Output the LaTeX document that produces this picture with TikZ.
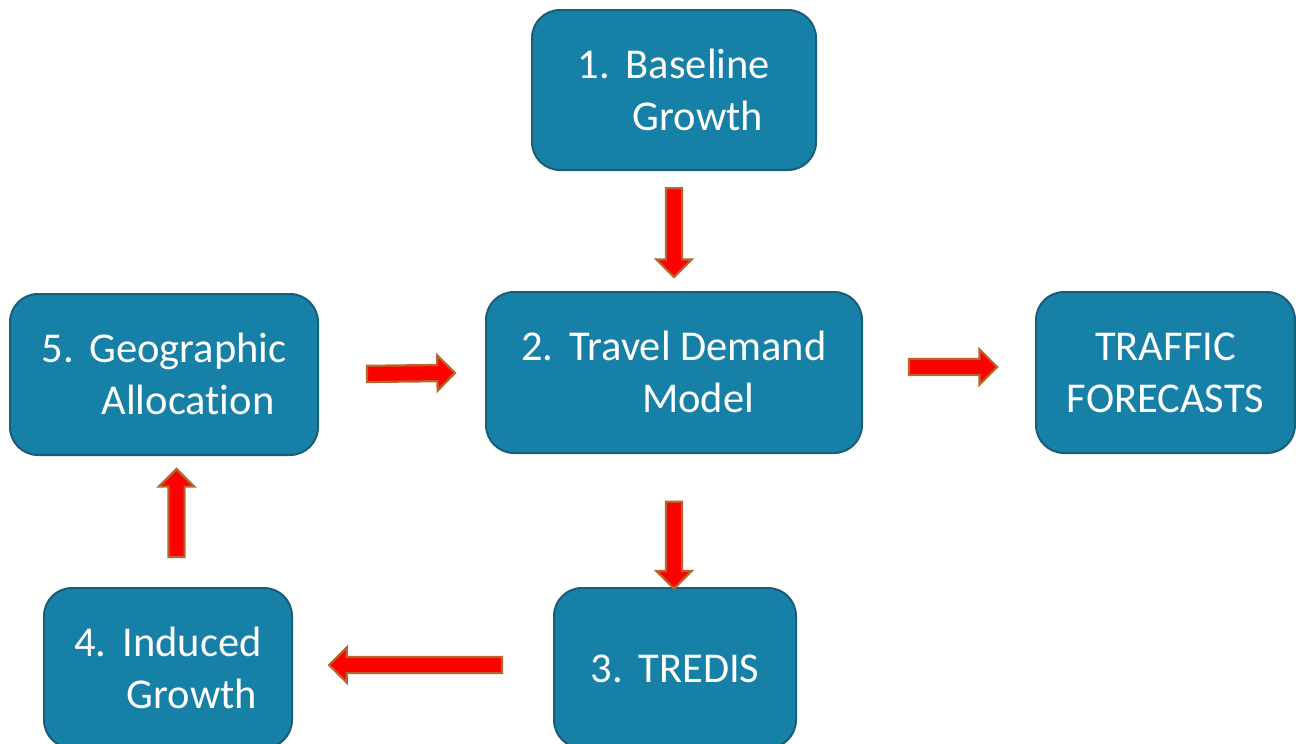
\documentclass[tikz,border=0pt]{standalone}
\usepackage{fontspec}
\setmainfont[Ligatures={NoCommon}]{Carlito}
\usetikzlibrary{shapes.arrows}
\definecolor{boxfill}{HTML}{1680A6}
\definecolor{boxline}{HTML}{1B5D78}
\definecolor{arrline}{HTML}{B8642A}
\newcommand{\numitem}[1]{\makebox[48pt][l]{#1}}
\newcommand{\lowertext}[1]{\raisebox{-4pt}[\height][\depth]{#1}}
\tikzset{
  stepbox/.style={rectangle, rounded corners=28pt, draw=boxline, line width=2pt,
    fill=boxfill, text=white, inner sep=0pt,
    font=\fontsize{42.5}{52}\selectfont},
  blockarrow/.style={single arrow, draw=arrline, fill=red, line width=2.2pt,
    inner xsep=0pt, inner ysep=7pt, single arrow head extend=9.5pt,
    single arrow tip angle=90, sloped, allow upside down, anchor=center}
}
\begin{document}
\begin{tikzpicture}[x=1pt,y=-1pt]
\useasboundingbox (0,0) rectangle (1296,744);
\node[stepbox, minimum width=284pt, minimum height=160pt] (b1) at (674,90)
  {\lowertext{\begin{tabular}{@{}l@{}c@{}}\numitem{1.}&Baseline\\&Growth\end{tabular}}};
\node[stepbox, minimum width=376pt, minimum height=161pt] (b2) at (674,372.5)
  {\lowertext{\begin{tabular}{@{}l@{}c@{}}\numitem{2.}&Travel Demand\\&Model\end{tabular}}};
\node[stepbox, minimum width=308pt, minimum height=161pt] (b5) at (164,374.5)
  {\lowertext{\begin{tabular}{@{}l@{}c@{}}\numitem{5.}&Geographic\\&Allocation\end{tabular}}};
\node[stepbox, minimum width=259pt, minimum height=161pt] (tf) at (1165.5,372.5)
  {\lowertext{\begin{tabular}{@{}c@{}}TRAFFIC\\FORECASTS\end{tabular}}};
\node[stepbox, minimum width=248pt, minimum height=160pt] (b4) at (168,668)
  {\lowertext{\begin{tabular}{@{}l@{}c@{}}\numitem{4.}&Induced\\&Growth\end{tabular}}};
\node[stepbox, minimum width=242pt, minimum height=160pt] (b3) at (675,668)
  {\lowertext{\begin{tabular}{@{}l@{}c@{}}\numitem{3.}&TREDIS\end{tabular}}};
% arrows
\path (b1.south) -- (b1.south |- b2.north)
  node[blockarrow, pos=0.48, minimum height=89pt] (a12) {};
\path (b2.south) -- (b2.south |- b3.north)
  node[blockarrow, pos=0.655, minimum height=87pt] (a23) {};
\path (b5.east) -- (b2.west)
  node[blockarrow, pos=0.53, minimum height=88pt] (a52) {};
\path ([yshift=5.5pt]b2.east) -- ([yshift=5.5pt]tf.west)
  node[blockarrow, pos=0.5, minimum height=88pt] (a2t) {};
\path ([yshift=3pt]b3.west) -- ([yshift=3pt]b4.east)
  node[blockarrow, pos=0.513, minimum height=173pt] (a34) {};
\coordinate (c45) at ([xshift=8.5pt]b4.north);
\path (c45) -- (c45 |- b5.south)
  node[blockarrow, pos=0.534, minimum height=88pt] (a45) {};
\end{tikzpicture}
\end{document}
